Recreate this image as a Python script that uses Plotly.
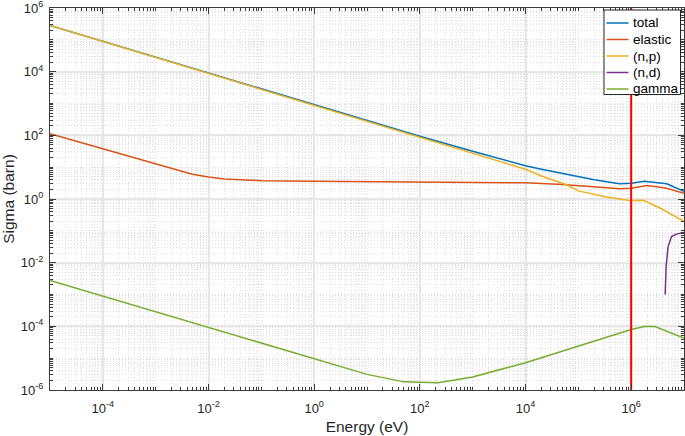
import plotly.graph_objects as go

# ---------------- data ----------------
E_total = [1e-5, 1e-3, 1e-1, 0.3, 1, 3, 10, 1e2, 1e3, 1e4, 2e4, 1e5, 2e5, 6e5, 1e6, 1.8e6, 3.5e6, 4.7e6, 1e7]
sig_total = [2.82e5, 2.82e4, 2.82e3, 1.66e3, 930, 535, 290, 93, 31.6, 11.1, 8.6, 4.9, 4.0, 3.0, 3.1, 3.58, 3.2, 3.0, 1.74]

E_elastic = [1e-5, 1e-4, 1e-3, 3e-3, 5e-3, 1e-2, 2e-2, 5e-2, 1e-1, 1, 1e2, 1e3, 1e4, 5e4, 1e5, 3e5, 6e5, 1e6, 2e6, 4.5e6, 1e7]
sig_elastic = [112, 37, 12.6, 7.6, 6.0, 4.9, 4.25, 3.9, 3.76, 3.59, 3.47, 3.39, 3.24, 2.88, 2.69, 2.29, 2.09, 2.19, 2.63, 2.21, 1.51]

E_np = [1e-5, 1e-3, 1e-1, 10, 1e3, 1e4, 2e4, 6e4, 1e5, 3.4e5, 9.3e5, 1.7e6, 3.5e6, 1e7]
sig_np = [2.82e5, 2.82e4, 2.82e3, 282, 28.2, 8.6, 5.3, 2.8, 1.8, 1.15, 0.90, 0.91, 0.52, 0.20]

E_nd = [4.4e6, 4.6e6, 5.0e6, 5.8e6, 7.2e6, 1e7]
sig_nd = [1.0e-3, 8e-3, 0.032, 0.066, 0.079, 0.089]

E_gamma = [1e-5, 1, 10, 50, 220, 1e3, 1e4, 1e6, 1.8e6, 2.8e6, 1e7]
sig_gamma = [2.75e-3, 9.3e-6, 3.1e-6, 1.8e-6, 1.7e-6, 2.57e-6, 7.2e-6, 7.9e-5, 9.8e-5, 9.8e-5, 4.3e-5]

threshold_E = 1e6

series_names = ["total", "elastic", "(n,p)", "(n,d)", "gamma"]
series_colors = ["#0072BD", "#D95319", "#EDB120", "#7E2F8E", "#77AC30"]

x_tick_exp = [-4, -2, 0, 2, 4, 6]
y_tick_exp = [-6, -4, -2, 0, 2, 4, 6]

# ---------------- figure ----------------
fig = go.Figure()
series_data = [(E_total, sig_total), (E_elastic, sig_elastic), (E_np, sig_np),
               (E_nd, sig_nd), (E_gamma, sig_gamma)]
for name, col, (xs, ys) in zip(series_names, series_colors, series_data):
    fig.add_trace(go.Scatter(x=xs, y=ys, name=name, mode="lines", showlegend=False,
                             line=dict(color=col, width=1.5)))

fig.add_trace(go.Scatter(x=[threshold_E, threshold_E], y=[1e-6, 1e6], mode="lines",
                         line=dict(color="#FF0000", width=2), showlegend=False,
                         hoverinfo="skip"))


def minor_vals(lo, hi, majors):
    vals = []
    for n in range(lo, hi):
        for k in range(1, 10):
            v = k * 10.0 ** n
            if k == 1 and n in majors:
                continue
            vals.append(v)
    return vals


axis_col = "#262626"
line_col = "#3c3c3c"
font_fam = "Liberation Sans, Arial, Helvetica, sans-serif"

common = dict(
    type="log", showline=True, linecolor=line_col, linewidth=1.2, mirror="allticks",
    ticks="inside", ticklen=6, tickwidth=1, tickcolor=line_col,
    showgrid=True, gridcolor="#e6e6e6", gridwidth=1.5, zeroline=False,
    tickfont=dict(family=font_fam, size=13, color=axis_col),
    ticklabeloverflow="allow",
)
minor_common = dict(tickmode="array", ticks="inside", ticklen=3, tickcolor=line_col,
                    showgrid=True, gridcolor="#dfdfdf", griddash="1px,2px", gridwidth=1)

fig.update_xaxes(
    **common, range=[-5, 7],
    tickmode="array", tickvals=[10.0 ** e for e in x_tick_exp],
    ticktext=[f"10<sup>{e}</sup>" for e in x_tick_exp],
    minor=dict(tickvals=minor_vals(-5, 7, x_tick_exp), **minor_common),
    title=dict(text="Energy (eV)", font=dict(family=font_fam, size=15.5, color=axis_col), standoff=6),
    ticklabelstandoff=6,
)
fig.update_yaxes(
    **common, range=[-6, 6],
    tickmode="array", tickvals=[10.0 ** e for e in y_tick_exp],
    ticktext=[f"10<sup>{e}</sup>" for e in y_tick_exp],
    minor=dict(tickvals=minor_vals(-6, 6, y_tick_exp), **minor_common),
    title=dict(text="Sigma (barn)", font=dict(family=font_fam, size=15.5, color=axis_col), standoff=4),
    ticklabelstandoff=3,
)

# ---------------- legend box (MATLAB style, compact) ----------------
W, H = 685, 436
ml, mr, mt, mb = 50, 1, 8, 46
pw, ph = W - ml - mr, H - mt - mb


def px_x(p):
    return (p - ml) / pw


def px_y(p):
    return (H - mb - p) / ph


shapes = [dict(type="rect", xref="paper", yref="paper", layer="above",
               x0=px_x(604), x1=px_x(680.5), y0=px_y(94.5), y1=px_y(10),
               fillcolor="white", line=dict(color=axis_col, width=1))]
annotations = []
row0, row_step = 23, 16.5
for i, (name, col) in enumerate(zip(series_names, series_colors)):
    ry = row0 + i * row_step
    shapes.append(dict(type="line", xref="paper", yref="paper", layer="above",
                       x0=px_x(606.5), x1=px_x(628.5), y0=px_y(ry), y1=px_y(ry),
                       line=dict(color=col, width=1.5)))
    annotations.append(dict(xref="paper", yref="paper", x=px_x(630.5), y=px_y(ry),
                            xanchor="left", yanchor="middle", text=name, showarrow=False,
                            font=dict(family=font_fam, size=13.5, color="black")))

fig.update_layout(
    width=W, height=H,
    margin=dict(l=ml, r=mr, t=mt, b=mb, autoexpand=False),
    paper_bgcolor="white", plot_bgcolor="white",
    font=dict(family=font_fam, color="black"),
    showlegend=False,
    shapes=shapes, annotations=annotations,
)

fig.write_html("out.html", config={"displayModeBar": False},
               post_script="document.body.style.margin='0';document.body.style.overflow='hidden';")
